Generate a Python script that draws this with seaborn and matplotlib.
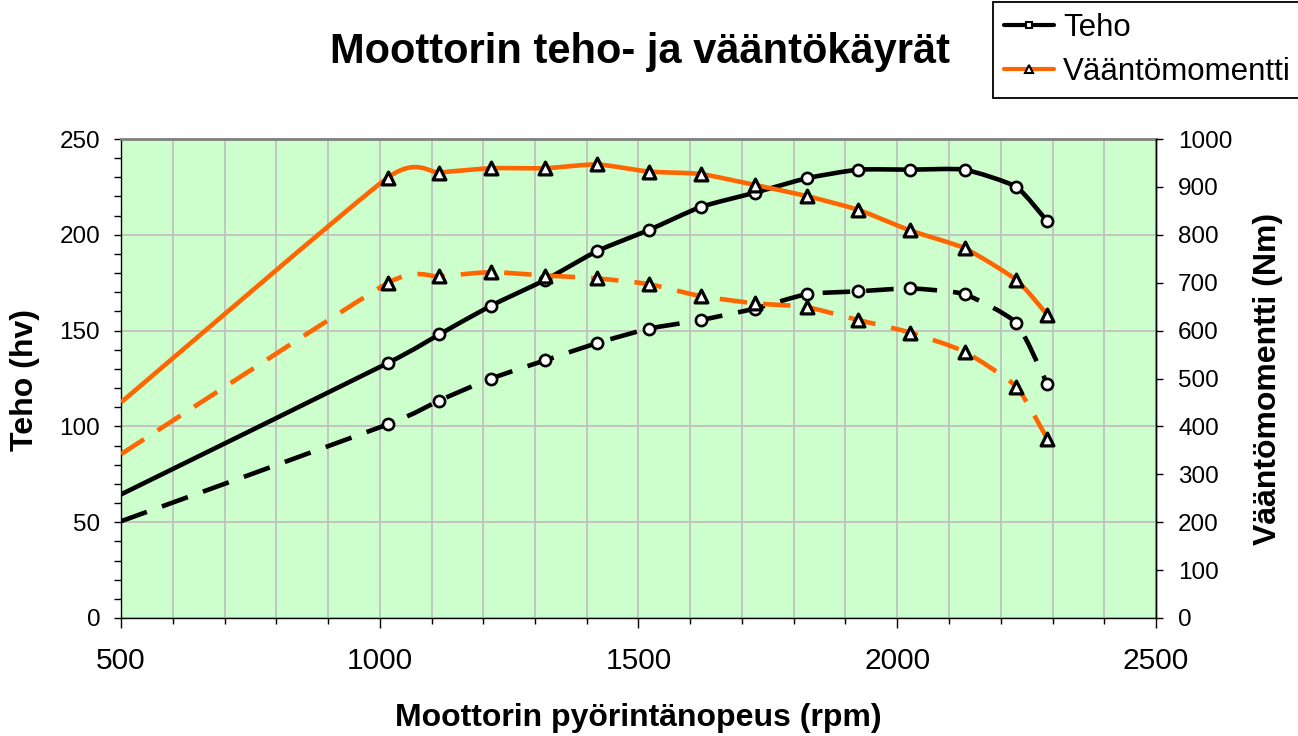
import numpy as np
import seaborn as sns
import matplotlib.pyplot as plt
from matplotlib.path import Path
from matplotlib.patches import PathPatch
from matplotlib.lines import Line2D
from matplotlib.ticker import MultipleLocator

# Values
rpm = [500, 1015, 1115, 1215, 1320, 1420, 1520, 1620, 1725, 1825, 1925, 2025, 2130, 2230, 2290]
teho_full = [64.5, 133, 148, 163, 176.5, 191.5, 202.5, 214.5, 222, 229.5, 234, 234, 234, 225, 207]
teho_part = [50.5, 101, 113.5, 125, 134.5, 143.5, 151, 155.5, 161.5, 169, 170.5, 172, 169, 154, 122]
vaanto_full = [450, 919, 930, 939, 939, 947, 932, 927, 904, 881, 852, 809, 772, 706, 633]
vaanto_part = [342, 699, 713, 722, 715, 709, 697, 672, 657, 649, 622, 596, 556, 483, 374]

ORANGE = "#FF6600"
DASH = (0, (6, 3.5))


def smooth_path(x, y, k=0.55):
    # Excel-style smoothed line: Bezier segments with Catmull-Rom control points
    pts = np.column_stack([np.asarray(x, float), np.asarray(y, float)])
    n = len(pts)
    verts = [pts[0]]
    codes = [Path.MOVETO]
    for i in range(n - 1):
        p0 = pts[i - 1] if i > 0 else pts[i]
        p3 = pts[i + 2] if i + 2 < n else pts[i + 1]
        verts += [pts[i] + (pts[i + 1] - p0) / 6 * k,
                  pts[i + 1] - (p3 - pts[i]) / 6 * k,
                  pts[i + 1]]
        codes += [Path.CURVE4] * 3
    return Path(verts, codes)


sns.set_style("white")
plt.rcParams["font.family"] = ["Liberation Sans", "DejaVu Sans"]
plt.rcParams["text.color"] = "black"
plt.rcParams["axes.labelcolor"] = "black"
plt.rcParams["xtick.color"] = "black"
plt.rcParams["ytick.color"] = "black"

fig = plt.figure(figsize=(12.98, 7.36), dpi=100)
ax = fig.add_axes([121 / 1298, 118 / 736, 1035 / 1298, 479 / 736])
ax2 = ax.twinx()

ax.set_facecolor("#CCFFCC")
ax.set_xlim(500, 2500)
ax.set_ylim(0, 250)
ax2.set_ylim(0, 1000)

# power curves (left axis)
for vals, ls in [(teho_full, "-"), (teho_part, DASH)]:
    ax.add_patch(PathPatch(smooth_path(rpm, vals), facecolor="none", edgecolor="black",
                           lw=3.3, linestyle=ls, zorder=3))
    sns.scatterplot(x=rpm[1:], y=vals[1:], ax=ax, marker="o", s=65, color="white",
                    edgecolor="black", linewidth=1.9, zorder=4, legend=False)

# torque curves (right axis)
for vals, ls in [(vaanto_full, "-"), (vaanto_part, DASH)]:
    ax2.add_patch(PathPatch(smooth_path(rpm, vals), facecolor="none", edgecolor=ORANGE,
                            lw=3.3, linestyle=ls, zorder=3))
    sns.scatterplot(x=rpm[1:], y=vals[1:], ax=ax2, marker="^", s=85, color="white",
                    edgecolor="black", linewidth=2.3, zorder=4, legend=False)

# grid and ticks
ax.xaxis.set_major_locator(MultipleLocator(500))
ax.xaxis.set_minor_locator(MultipleLocator(100))
ax.yaxis.set_major_locator(MultipleLocator(50))
ax.yaxis.set_minor_locator(MultipleLocator(10))
ax2.yaxis.set_major_locator(MultipleLocator(100))
ax.grid(True, which="major", axis="y", color="#C0C0C0", lw=1.3)
ax.grid(True, which="both", axis="x", color="#C0C0C0", lw=1.3)
ax.set_axisbelow(True)

ax.tick_params(axis="y", which="both", direction="out", length=5, width=1,
               color="black", labelsize=17.5, pad=10, left=True)
ax.tick_params(axis="x", which="major", direction="out", length=7, width=1,
               color="black", labelsize=21.5, pad=14, bottom=True)
ax.tick_params(axis="x", which="minor", direction="out", length=4, width=1,
               color="black", bottom=True)
ax2.tick_params(axis="y", direction="out", length=5, width=1, color="black",
                labelsize=17.5, pad=11, right=True)

for side in ["left", "bottom", "right"]:
    ax.spines[side].set_color("black")
    ax.spines[side].set_linewidth(1)
ax.spines["top"].set_color("#808080")
ax.spines["top"].set_linewidth(2)
for side in ["left", "bottom", "top"]:
    ax2.spines[side].set_visible(False)
ax2.spines["right"].set_color("black")
ax2.spines["right"].set_linewidth(1)

# labels
ax.set_xlabel("Moottorin pyörintänopeus (rpm)", fontsize=23, fontweight="bold", va="center")
ax.xaxis.set_label_coords(0.5, -0.209)
ax.set_ylabel("Teho (hv)", fontsize=23, fontweight="bold", va="center")
ax.yaxis.set_label_coords(-0.0928, 0.497)
ax2.set_ylabel("Vääntömomentti (Nm)", fontsize=23, fontweight="bold", va="center")
ax2.yaxis.set_label_coords(1.108, 0.5)

fig.text(640 / 1298, 1 - 52 / 736, "Moottorin teho- ja vääntökäyrät",
         ha="center", va="center", fontsize=30, fontweight="bold")

handles = [
    Line2D([], [], color="black", lw=3, marker="s", markersize=5,
           markerfacecolor="white", markeredgecolor="black", markeredgewidth=1.5),
    Line2D([], [], color=ORANGE, lw=3, marker="^", markersize=6,
           markerfacecolor="white", markeredgecolor="black", markeredgewidth=1.5),
]
leg = fig.legend(handles, ["Teho", "Vääntömomentti"], loc="upper left",
                 bbox_to_anchor=(993 / 1298, 1 - 2 / 736), fontsize=22.5, frameon=True,
                 fancybox=False, edgecolor="black", framealpha=1,
                 handlelength=1.6, handletextpad=0.3, labelspacing=0.45,
                 borderpad=0.35, borderaxespad=0)
leg.get_frame().set_linewidth(1.3)

fig.savefig("out.png", dpi=100)
plt.close(fig)
